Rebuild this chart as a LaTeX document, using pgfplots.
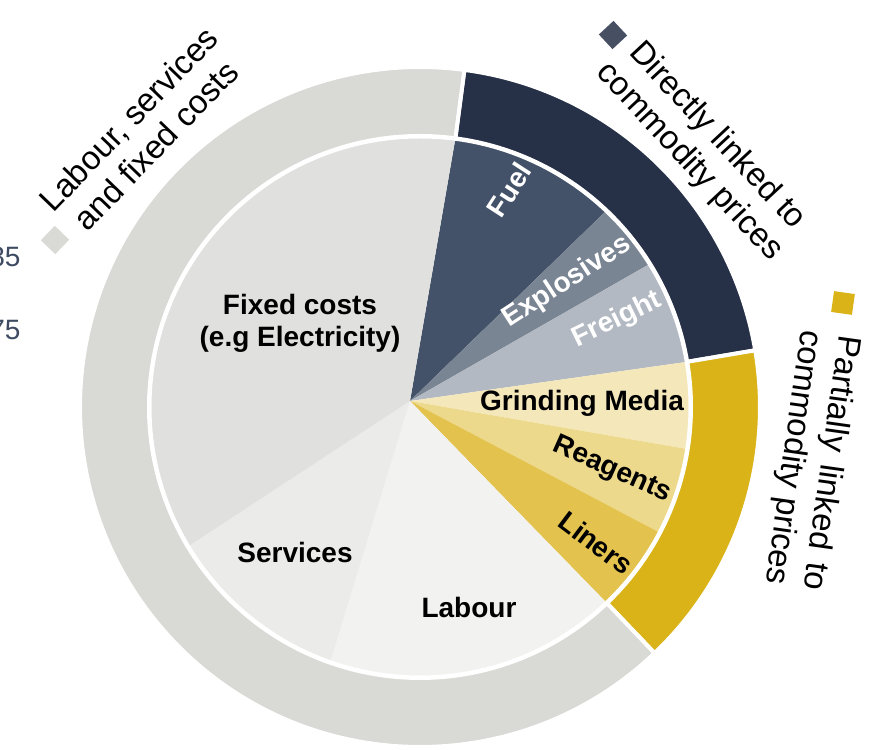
\documentclass[border=0pt]{standalone}
\usepackage{pgfplots}
\pgfplotsset{compat=1.18}
\usepackage{pgfplotstable}
\usepackage{fontspec}
\setmainfont{Liberation Sans}
\usepackage{calc}

\definecolor{ringGray}{HTML}{D9D9D5}
\definecolor{ringNavy}{HTML}{263047}
\definecolor{ringGold}{HTML}{D9B317}
\definecolor{cFixed}{HTML}{E0E0DF}
\definecolor{cServices}{HTML}{EBEBE9}
\definecolor{cLabour}{HTML}{F2F2F1}
\definecolor{cFuel}{HTML}{435268}
\definecolor{cExplosives}{HTML}{7A8594}
\definecolor{cFreight}{HTML}{B3B9C3}
\definecolor{cGrinding}{HTML}{F4E8BB}
\definecolor{cReagents}{HTML}{EDD98B}
\definecolor{cLiners}{HTML}{E3C24D}
\definecolor{sideText}{HTML}{3E4A62}

% inner pie: share of total cost (%), clockwise from the top
\pgfplotstableread{
name       share  colour
Fuel       10.0   cFuel
Explosives 4.05   cExplosives
Freight    6.2    cFreight
Grinding   5.15   cGrinding
Reagents   5.2    cReagents
Liners     5.2    cLiners
Labour     17.5   cLabour
Services   11.0   cServices
Fixed      35.7   cFixed
}\innerdata

% outer ring: groups
\pgfplotstableread{
name      share  colour
Direct    20.25  ringNavy
Partial   15.55  ringGold
Other     64.2   ringGray
}\ringdata

\newcommand{\biglbl}{\fontsize{33}{38}\selectfont}
\newcommand{\inlbl}{\fontsize{28}{32}\selectfont\bfseries}

\begin{document}
\begin{tikzpicture}
\begin{axis}[
    x=1pt, y=1pt,
    xmin=0, xmax=871, ymin=0, ymax=750,
    enlargelimits=false,
    hide axis,
    clip=false,
]
\pgfplotsextra{%
  % outer ring
  \xdef\startangle{82.5}%
  \pgfplotstablegetrowsof{\ringdata}%
  \pgfmathtruncatemacro{\lastrow}{\pgfplotsretval-1}%
  \foreach \i in {0,...,\lastrow}{%
    \pgfplotstablegetelem{\i}{share}\of{\ringdata}%
    \pgfmathsetmacro{\endangle}{\startangle-3.6*\pgfplotsretval}%
    \pgfplotstablegetelem{\i}{colour}\of{\ringdata}%
    \edef\col{\pgfplotsretval}%
    \filldraw[fill=\col, draw=white, line width=4pt, line join=miter]
      ([shift={(\startangle:340pt)}]axis cs:420,343)
      arc[start angle=\startangle, end angle=\endangle, radius=340pt]
      -- ([shift={(\endangle:271pt)}]axis cs:420,343)
      arc[start angle=\endangle, end angle=\startangle, radius=271pt]
      -- cycle;
    \global\let\startangle\endangle
  }%
  % inner pie
  \xdef\startangle{82.5}%
  \pgfplotstablegetrowsof{\innerdata}%
  \pgfmathtruncatemacro{\lastrow}{\pgfplotsretval-1}%
  \foreach \i in {0,...,\lastrow}{%
    \pgfplotstablegetelem{\i}{share}\of{\innerdata}%
    \pgfmathsetmacro{\endangle}{\startangle-3.6*\pgfplotsretval}%
    \pgfplotstablegetelem{\i}{colour}\of{\innerdata}%
    \edef\col{\pgfplotsretval}%
    \fill[\col] (axis cs:410,349)
      -- ([shift={(\startangle:270pt)}]axis cs:420,343)
      arc[start angle=\startangle, end angle=\endangle, radius=270pt]
      -- cycle;
    \global\let\startangle\endangle
  }%
  \draw[white, line width=3pt] (axis cs:420,343) circle[radius=270pt];
}

% labels inside the pie
\node[align=center, font=\inlbl] at (axis cs:300,427) {Fixed costs\\(e.g Electricity)};
\node[font=\inlbl] at (axis cs:295,198) {Services};
\node[font=\inlbl] at (axis cs:469,143) {Labour};
\node[font=\inlbl] at (axis cs:582,347) {Grinding Media};
\node[font=\inlbl, rotate=-24] at (axis cs:612,280) {Reagents};
\node[font=\inlbl, rotate=-37] at (axis cs:596,207) {Liners};
\node[font=\inlbl, text=white, rotate=57] at (axis cs:509,560) {Fuel};
\node[font=\inlbl, text=white, rotate=33] at (axis cs:567,468) {Explosives};
\node[font=\inlbl, text=white, rotate=26] at (axis cs:617,430) {Freight};

% group labels round the ring
\node[align=center, font=\biglbl, rotate=46] at (axis cs:142,618) {Labour, services\\and fixed costs};
\node[align=center, font=\biglbl, rotate=-47] at (axis cs:703,601) {Directly linked to\\commodity prices};
\node[align=center, font=\biglbl, rotate=-98] at (axis cs:811,290)
  {\makebox[\widthof{commodity prices}][s]{Partially linked to}\\commodity prices};
\node[fill=ringGray, minimum size=20pt, inner sep=0pt, rotate=46] at (axis cs:55,510) {};
\node[fill=ringNavy!85!white, minimum size=20pt, inner sep=0pt, rotate=-47] at (axis cs:613,715) {};
\node[fill=ringGold, minimum size=21pt, inner sep=0pt, rotate=-98] at (axis cs:843,447) {};

% cut-off numbers at the left edge
\node[anchor=east, font=\fontsize{28}{32}\selectfont, text=sideText] at (axis cs:24,493) {85};
\node[anchor=east, font=\fontsize{28}{32}\selectfont, text=sideText] at (axis cs:24,420) {75};
\end{axis}
\pgfresetboundingbox
\path (current axis.south west) rectangle (current axis.north east);
\end{tikzpicture}
\end{document}
